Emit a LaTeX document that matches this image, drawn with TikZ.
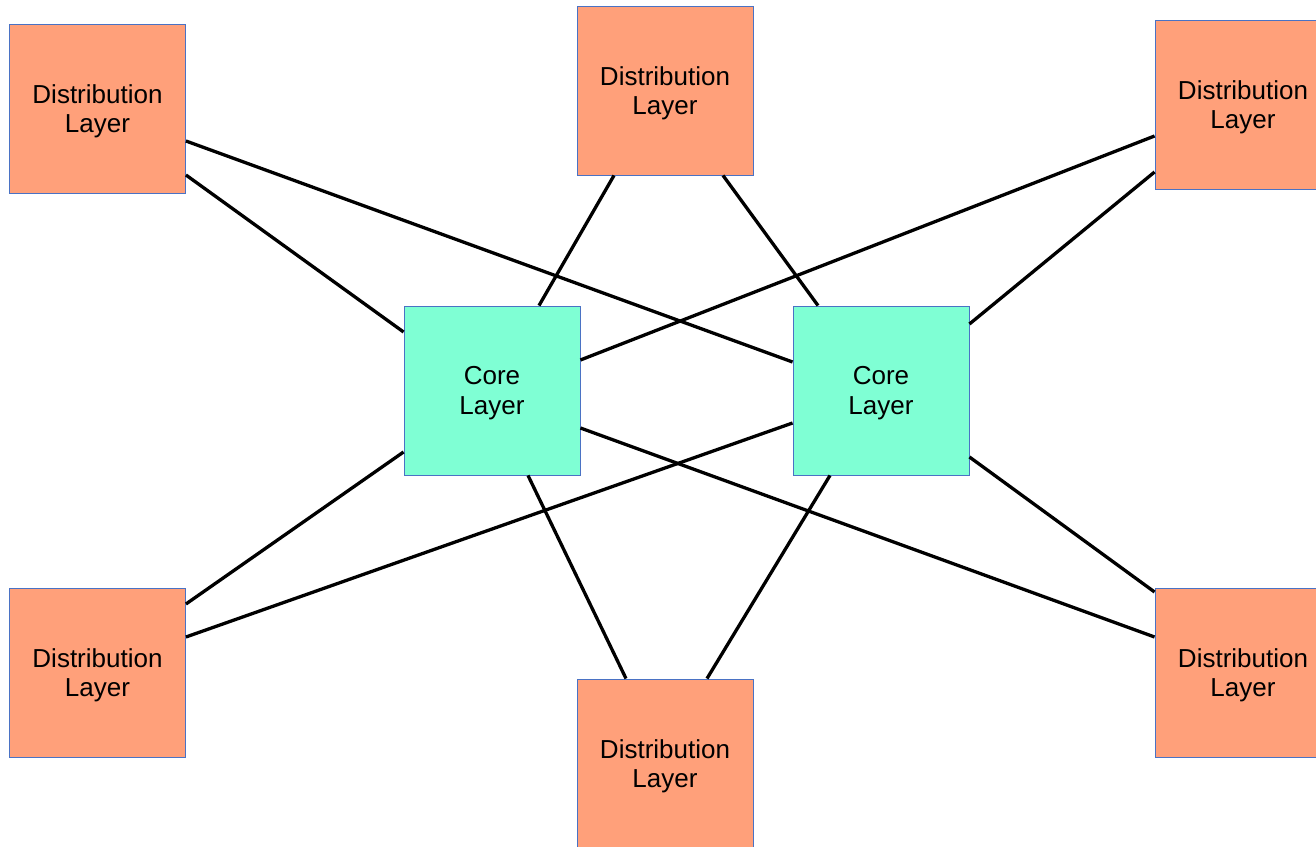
\documentclass[tikz,border=0pt]{standalone}
\usepackage{fontspec}
\setmainfont{Liberation Sans}
\definecolor{distfill}{HTML}{FFA07A}
\definecolor{corefill}{HTML}{7FFFD4}
\definecolor{boxedge}{HTML}{4A72C4}
\begin{document}
\begin{tikzpicture}[x=1pt,y=1pt,
  layerbox/.style={draw=boxedge, line width=0.9pt, minimum width=176pt, minimum height=169pt,
    inner sep=0pt, align=center, font=\fontsize{26}{29.5}\selectfont, text depth=-2pt},
  dist/.style={layerbox, fill=distfill},
  core/.style={layerbox, fill=corefill},
  link/.style={line width=3.3pt, black}]
\useasboundingbox (0,0) rectangle (1316,846);
\node[dist] (TL) at (97.5,737.5) {Distribution\\Layer};
\node[dist] (TC) at (665,755.5) {Distribution\\Layer};
\node[dist] (TR) at (1243,741.5) {Distribution\\Layer};
\node[core] (CL) at (492,455.5) {Core\\Layer};
\node[core] (CR) at (881,455.5) {Core\\Layer};
\node[dist] (BL) at (97.5,173.5) {Distribution\\Layer};
\node[dist] (BC) at (665,82.5) {Distribution\\Layer};
\node[dist] (BR) at (1243,173.5) {Distribution\\Layer};
\draw[link] ([yshift=-66.5pt]TL.east) -- ([yshift=58.5pt]CL.west);
\draw[link] ([yshift=-32.5pt]TL.east) -- ([yshift=28.5pt]CR.west);
\draw[link] ([xshift=-51pt]TC.south) -- ([xshift=47pt]CL.north);
\draw[link] ([xshift=58pt]TC.south) -- ([xshift=-63pt]CR.north);
\draw[link] ([yshift=-31.5pt]TR.west) -- ([yshift=30.5pt]CL.east);
\draw[link] ([yshift=-67.5pt]TR.west) -- ([yshift=66.5pt]CR.east);
\draw[link] ([yshift=68.5pt]BL.east) -- ([yshift=-61.5pt]CL.west);
\draw[link] ([yshift=35.5pt]BL.east) -- ([yshift=-32.5pt]CR.west);
\draw[link] ([xshift=-39pt]BC.north) -- ([xshift=36pt]CL.south);
\draw[link] ([xshift=42pt]BC.north) -- ([xshift=-51pt]CR.south);
\draw[link] ([yshift=-37.5pt]CL.east) -- ([yshift=35.5pt]BR.west);
\draw[link] ([yshift=-66.5pt]CR.east) -- ([yshift=80.5pt]BR.west);
\end{tikzpicture}
\end{document}
